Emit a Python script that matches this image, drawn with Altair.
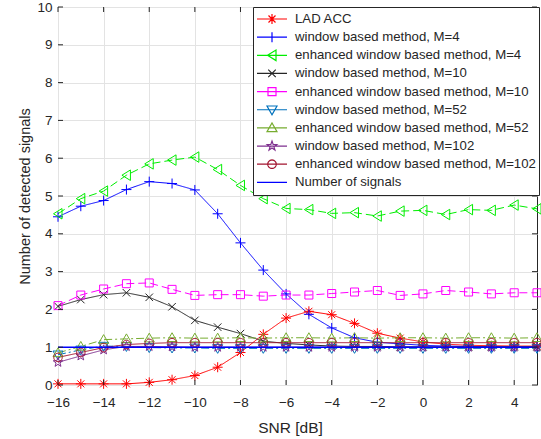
import math
import altair as alt
import pandas as pd

# ---------------- data ----------------
snr = list(range(-16, 6))

lad_acc = [0.03, 0.03, 0.03, 0.03, 0.07, 0.14, 0.25, 0.47, 0.86, 1.34, 1.77,
           1.95, 1.86, 1.63, 1.37, 1.24, 1.14, 1.08, 1.05, 1.04, 1.03, 1.03]
win_m4 = [4.45, 4.73, 4.88, 5.17, 5.38, 5.33, 5.16, 4.53, 3.76, 3.04, 2.41,
          1.87, 1.51, 1.25, 1.13, 1.09, 1.05, 1.03, 1.02, 1.01, 1.01, 1.01]
enh_m4 = [4.53, 4.93, 5.13, 5.55, 5.85, 5.95, 6.03, 5.70, 5.28, 4.93, 4.67,
          4.64, 4.54, 4.56, 4.47, 4.60, 4.62, 4.51, 4.64, 4.62, 4.76, 4.66]
win_m10 = [2.08, 2.26, 2.39, 2.44, 2.32, 2.07, 1.71, 1.53, 1.36, 1.16, 1.10,
           1.06, 1.03, 1.02, 1.02, 1.01, 1.01, 1.01, 1.01, 1.01, 1.01, 1.01]
enh_m10 = [2.10, 2.38, 2.54, 2.68, 2.70, 2.53, 2.37, 2.39, 2.39, 2.35, 2.38,
           2.38, 2.42, 2.46, 2.50, 2.37, 2.41, 2.50, 2.46, 2.41, 2.44, 2.44]
win_m52 = [0.80, 0.93, 1.03, 1.02, 0.99, 0.98, 0.98, 0.97, 0.97, 0.97, 0.97,
           0.97, 0.97, 0.97, 0.97, 0.97, 0.97, 0.97, 0.97, 0.97, 0.97, 0.97]
enh_m52 = [0.85, 1.02, 1.20, 1.22, 1.24, 1.25, 1.24, 1.24, 1.25, 1.24, 1.25,
           1.25, 1.24, 1.25, 1.24, 1.25, 1.25, 1.24, 1.25, 1.25, 1.24, 1.25]
win_m102 = [0.60, 0.77, 0.93, 1.02, 1.02, 1.01, 1.00, 1.00, 1.00, 1.00, 1.00,
            1.00, 1.00, 1.00, 1.00, 1.00, 1.00, 1.00, 1.00, 1.00, 1.00, 1.00]
enh_m102 = [0.73, 0.86, 0.99, 1.07, 1.10, 1.12, 1.12, 1.12, 1.12, 1.12, 1.12,
            1.12, 1.12, 1.12, 1.12, 1.12, 1.12, 1.12, 1.12, 1.12, 1.12, 1.12]
num_signals = [1.0] * len(snr)

names = [
    "LAD ACC",
    "window based method, M=4",
    "enhanced window based method, M=4",
    "window based method, M=10",
    "enhanced window based method, M=10",
    "window based method, M=52",
    "enhanced window based method, M=52",
    "window based method, M=102",
    "enhanced window based method, M=102",
    "Number of signals",
]
values = [lad_acc, win_m4, enh_m4, win_m10, enh_m10, win_m52, enh_m52,
          win_m102, enh_m102, num_signals]
colors = ["#ff0000", "#0000ff", "#00ee00", "#262626", "#ff00ff",
          "#0072bd", "#77ac30", "#7e2f8e", "#a2142f", "#0000ff"]
dashes = [[1, 0], [1, 0], [8, 4], [1, 0], [8, 4],
          [8, 3, 2, 3], [8, 3, 2, 3], [1, 0], [1, 0], [1, 0]]

x_ticks = list(range(-16, 5, 2))
y_ticks = list(range(0, 11))

# ---------------- marker shapes (unit square) ----------------
def star_pts():
    pts = []
    for i in range(10):
        r = 1.0 if i % 2 == 0 else 0.4
        a = math.radians(-90 + 36 * i)
        pts.append((r * math.cos(a), r * math.sin(a)))
    return pts

def circle_pts():
    return [(0.85 * math.cos(2 * math.pi * i / 28), 0.85 * math.sin(2 * math.pi * i / 28)) for i in range(28)]

markers = [
    [([(-1, 0), (1, 0)], False), ([(0, -1), (0, 1)], False),
     ([(-0.7, -0.7), (0.7, 0.7)], False), ([(-0.7, 0.7), (0.7, -0.7)], False)],
    [([(-1, 0), (1, 0)], False), ([(0, -1), (0, 1)], False)],
    [([(-0.9, 0), (0.8, -1.05), (0.8, 1.05)], True)],
    [([(-0.75, -0.75), (0.75, 0.75)], False), ([(-0.75, 0.75), (0.75, -0.75)], False)],
    [([(-0.8, -0.8), (0.8, -0.8), (0.8, 0.8), (-0.8, 0.8)], True)],
    [([(-1, -0.75), (1, -0.75), (0, 1)], True)],
    [([(-1, 0.75), (1, 0.75), (0, -1)], True)],
    [(star_pts(), True)],
    [(circle_pts(), True)],
]

def to_path(marker, k=1.0):
    parts = []
    for pts, closed in marker:
        s = "M" + "L".join(f"{x * k:.3f},{y * k:.3f}" for x, y in pts)
        if closed:
            s += "Z"
        parts.append(s)
    return "".join(parts)

plot_paths = [to_path(m) for m in markers]
legend_paths = ["M-1,0H1" + to_path(m, 1 / 3) for m in markers] + ["M-1,0H1"]

# ---------------- tables ----------------
rows = []
for n, vals in zip(names, values):
    for s, v in zip(snr, vals):
        rows.append({"snr": s, "value": v, "series": n})
df = pd.DataFrame(rows)
df_marked = df[df["series"] != "Number of signals"]
df_num = df[df["series"] == "Number of signals"]
df_legend = pd.DataFrame({"snr": [0], "value": [0], "name": [names[0]]})
df_xt = pd.DataFrame({"snr": x_ticks, "value0": [0] * len(x_ticks), "value10": [10] * len(x_ticks)})
df_yt = pd.DataFrame({"value": y_ticks, "snrL": [-16] * len(y_ticks), "snrR": [5] * len(y_ticks)})

FONT = "Liberation Sans"
TXT = "#262626"

xscale = alt.Scale(domain=[-16, 5], nice=False, zero=False)
yscale = alt.Scale(domain=[0, 10], nice=False)

xaxis = alt.Axis(
    title="SNR [dB]", values=x_ticks, grid=True, gridColor="#e3e3e3", domain=False,
    ticks=False, tickSize=0, labelPadding=10, labelFontSize=13.5, labelFont=FONT,
    labelColor=TXT, labelFlush=False, labelOverlap=False,
    titleFont=FONT, titleFontSize=15.5, titleFontWeight="normal",
    titleColor=TXT, titleBaseline="alphabetic", titleY=47, titleX=232)
yaxis = alt.Axis(
    title="Number of detected signals", values=y_ticks, grid=True, gridColor="#e3e3e3",
    domain=False, ticks=False, tickSize=0, labelPadding=6, labelFontSize=13.5,
    labelFont=FONT, labelColor=TXT, labelFlush=False, labelOverlap=False,
    titleFont=FONT, titleFontSize=14.5,
    titleFontWeight="normal", titleColor=TXT, titleBaseline="alphabetic",
    titleX=-29, titleY=189)

def X(field):
    return alt.X(field, scale=xscale, axis=xaxis)

def Y(field):
    return alt.Y(field, scale=yscale, axis=yaxis)

lines = alt.Chart(df_marked).mark_line(strokeWidth=1, opacity=1).encode(
    x=X("snr:Q"), y=Y("value:Q"),
    color=alt.Color("series:N", scale=alt.Scale(domain=names[:9], range=colors[:9]), legend=None),
    strokeDash=alt.StrokeDash("series:N", scale=alt.Scale(domain=names[:9], range=dashes[:9]), legend=None),
    detail="series:N",
)

points = alt.Chart(df_marked).mark_point(filled=False, size=100, strokeWidth=1, opacity=1).encode(
    x=X("snr:Q"), y=Y("value:Q"),
    color=alt.Color("series:N", scale=alt.Scale(domain=names[:9], range=colors[:9]), legend=None),
    shape=alt.Shape("series:N", scale=alt.Scale(domain=names[:9], range=plot_paths), legend=None),
)

numline = alt.Chart(df_num).mark_line(strokeWidth=1.6, color="#0000ff", opacity=1).encode(
    x=X("snr:Q"), y=Y("value:Q"),
)

legend_layer = alt.Chart(df_legend).transform_filter("datum.snr > 100").mark_point(
    filled=False, size=900, strokeWidth=1, opacity=1).encode(
    x=X("snr:Q"), y=Y("value:Q"),
    color=alt.Color("name:N", scale=alt.Scale(domain=names, range=colors), legend=alt.Legend(
        title=None, orient="none", legendX=195, legendY=0, padding=3,
        strokeColor=TXT, fillColor="white", labelFont=FONT, labelFontSize=13.2,
        labelColor=TXT, labelOffset=7, symbolSize=900, symbolStrokeWidth=1.2,
        clipHeight=18, rowPadding=0.15, labelLimit=400)),
    shape=alt.Shape("name:N", scale=alt.Scale(domain=names, range=legend_paths)),
)

tick_style = dict(thickness=1, size=5, color=TXT, opacity=1)
tb = alt.Chart(df_xt).mark_tick(orient="vertical", yOffset=-2.5, **tick_style).encode(
    x=X("snr:Q"), y=Y("value0:Q"))
tt = alt.Chart(df_xt).mark_tick(orient="vertical", yOffset=2.5, **tick_style).encode(
    x=X("snr:Q"), y=Y("value10:Q"))
tl = alt.Chart(df_yt).mark_tick(orient="horizontal", xOffset=2.5, **tick_style).encode(
    y=Y("value:Q"), x=X("snrL:Q"))
tr = alt.Chart(df_yt).mark_tick(orient="horizontal", xOffset=-2.5, **tick_style).encode(
    y=Y("value:Q"), x=X("snrR:Q"))

chart = alt.layer(lines, points, numline, tb, tt, tl, tr, legend_layer).resolve_scale(
    color="independent", shape="independent", strokeDash="independent"
).properties(
    width=479, height=378,
    autosize=alt.AutoSizeParams(type="none"),
    padding={"left": 58, "top": 7, "right": 4, "bottom": 54},
    background="white",
).configure_view(stroke=TXT, strokeWidth=1)

chart.save("out.html", embed_options={"renderer": "svg", "actions": False})
